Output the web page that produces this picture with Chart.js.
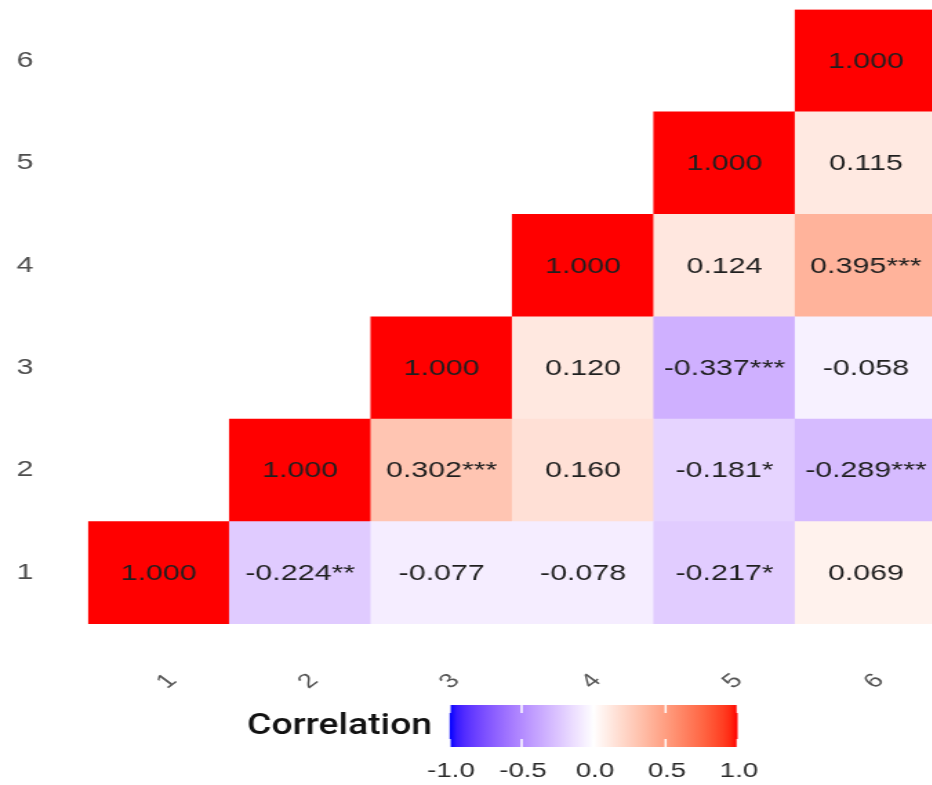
<!DOCTYPE html>
<html lang="en">
<head>
  <meta charset="UTF-8" />
  <title>Correlation</title>
  <script src="https://cdn.jsdelivr.net/npm/chart.js"></script>
  <style>
    html, body {
      margin: 0;
      padding: 0;
      background: #fff;
      overflow: hidden;
      width: 932px;
      height: 785px;
    }
    /* the source picture is stretched sideways, so draw square tiles and stretch the lot */
    #wrap {
      position: absolute;
      left: 0;
      top: 0;
      width: 690px;
      height: 785px;
      transform: scaleX(1.38);
      transform-origin: 0 0;
    }
  </style>
</head>
<body>
  <div id="wrap"><canvas id="heat" width="690" height="785"></canvas></div>

  <script>
    const vars = ['1', '2', '3', '4', '5', '6'];

    // one array per row (y = 1..6), index = column variable, null = empty half
    const corr1 = [1.000, -0.224, -0.077, -0.078, -0.217, 0.069];
    const corr2 = [null, 1.000, 0.302, 0.160, -0.181, -0.289];
    const corr3 = [null, null, 1.000, 0.120, -0.337, -0.058];
    const corr4 = [null, null, null, 1.000, 0.124, 0.395];
    const corr5 = [null, null, null, null, 1.000, 0.115];
    const corr6 = [null, null, null, null, null, 1.000];

    const stars1 = ['', '**', '', '', '*', ''];
    const stars2 = ['', '', '***', '', '*', '***'];
    const stars3 = ['', '', '', '', '***', ''];
    const stars4 = ['', '', '', '', '', '***'];
    const stars5 = ['', '', '', '', '', ''];
    const stars6 = ['', '', '', '', '', ''];

    const legendTicks = [-1, -0.5, 0, 0.5, 1];

    const corrRows = [corr1, corr2, corr3, corr4, corr5, corr6];
    const starRows = [stars1, stars2, stars3, stars4, stars5, stars6];

    const FONT = "'Liberation Sans', Arial, sans-serif";

    // blue - white - red, mixed in Lab like ggplot's gradient2
    function toLin(c) { c /= 255; return c <= 0.04045 ? c / 12.92 : Math.pow((c + 0.055) / 1.055, 2.4); }
    function toSrgb(c) {
      c = Math.max(0, Math.min(1, c));
      return Math.round(255 * (c <= 0.0031308 ? 12.92 * c : 1.055 * Math.pow(c, 1 / 2.4) - 0.055));
    }
    function rgbToLab(rgb) {
      const r = toLin(rgb[0]), g = toLin(rgb[1]), b = toLin(rgb[2]);
      const x = (0.4124 * r + 0.3576 * g + 0.1805 * b) / 0.95047;
      const y = (0.2126 * r + 0.7152 * g + 0.0722 * b);
      const z = (0.0193 * r + 0.1192 * g + 0.9505 * b) / 1.08883;
      const f = t => t > 0.008856 ? Math.cbrt(t) : 7.787 * t + 16 / 116;
      return [116 * f(y) - 16, 500 * (f(x) - f(y)), 200 * (f(y) - f(z))];
    }
    function labToRgb(lab) {
      const fy = (lab[0] + 16) / 116, fx = fy + lab[1] / 500, fz = fy - lab[2] / 200;
      const inv = t => t * t * t > 0.008856 ? t * t * t : (t - 16 / 116) / 7.787;
      const x = inv(fx) * 0.95047, y = inv(fy), z = inv(fz) * 1.08883;
      return [
        toSrgb(3.2406 * x - 1.5372 * y - 0.4986 * z),
        toSrgb(-0.9689 * x + 1.8758 * y + 0.0415 * z),
        toSrgb(0.0557 * x - 0.2040 * y + 1.0570 * z)
      ];
    }
    const labWhite = rgbToLab([255, 255, 255]);
    const labRed = rgbToLab([255, 0, 0]);
    const labBlue = rgbToLab([0, 0, 255]);

    function fillColor(v) {
      if (v === null || v === undefined) return 'rgba(0,0,0,0)';
      const t = Math.min(1, Math.abs(v));
      const end = v < 0 ? labBlue : labRed;
      const lab = labWhite.map((w, i) => w + (end[i] - w) * t);
      const c = labToRgb(lab);
      return `rgb(${c[0]},${c[1]},${c[2]})`;
    }

    const cellLabels = {
      id: 'cellLabels',
      afterDatasetsDraw(chart) {
        const ctx = chart.ctx;
        ctx.save();
        ctx.font = `22px ${FONT}`;
        ctx.fillStyle = '#1f1f1f';
        ctx.textAlign = 'center';
        ctx.textBaseline = 'middle';
        chart.data.datasets.forEach((ds, r) => {
          const meta = chart.getDatasetMeta(r);
          meta.data.forEach((bar, c) => {
            const v = corrRows[r][c];
            if (v === null) return;
            ctx.fillText(v.toFixed(3) + starRows[r][c], bar.x, (bar.y + bar.base) / 2 + 1);
          });
        });
        ctx.restore();
      }
    };

    const colorBar = {
      id: 'colorBar',
      afterDraw(chart) {
        const ctx = chart.ctx;
        const left = 325.8, width = 208.7, top = 705, height = 42;
        const pos = v => left + (v + 1) / 2 * width;
        ctx.save();

        const grad = ctx.createLinearGradient(left, 0, left + width, 0);
        for (let i = 0; i <= 40; i++) {
          const v = -1 + i / 20;
          grad.addColorStop(i / 40, fillColor(v));
        }
        ctx.fillStyle = grad;
        ctx.fillRect(left, top, width, height);

        ctx.strokeStyle = '#fff';
        ctx.lineWidth = 1.5;
        legendTicks.forEach(v => {
          const x = pos(v);
          ctx.beginPath();
          ctx.moveTo(x, top); ctx.lineTo(x, top + 8);
          ctx.moveTo(x, top + height - 8); ctx.lineTo(x, top + height);
          ctx.stroke();
        });

        ctx.fillStyle = '#2b2b2b';
        ctx.font = `20px ${FONT}`;
        ctx.textAlign = 'center';
        ctx.textBaseline = 'middle';
        legendTicks.forEach(v => ctx.fillText(v.toFixed(1), pos(v) + 1, 771));

        // legend title, squeezed to the narrow face of the source
        ctx.font = "500 30px Roboto, sans-serif";
        const w = ctx.measureText('Correlation').width;
        const sx = 134 / w;
        ctx.translate(313, 726);
        ctx.scale(sx, 1);
        ctx.fillStyle = '#111';
        ctx.textAlign = 'right';
        ctx.fillText('Correlation', 0, 0);
        ctx.restore();
      }
    };

    new Chart(document.getElementById('heat').getContext('2d'), {
      type: 'bar',
      data: {
        labels: vars,
        datasets: corrRows.map((row, r) => ({
          label: 'row ' + vars[r],
          data: row.map(v => v === null ? null : [r + 0.5, r + 1.5]),
          backgroundColor: c => fillColor(row[c.dataIndex]),
          borderWidth: 0,
          grouped: false,
          barPercentage: 1,
          categoryPercentage: 1
        }))
      },
      options: {
        responsive: false,
        animation: false,
        layout: { padding: { left: 12, top: 9.5, right: 6.7, bottom: 0 } },
        plugins: {
          legend: { display: false },
          tooltip: { enabled: false }
        },
        scales: {
          x: {
            grid: { display: false, drawTicks: false },
            border: { display: false },
            ticks: {
              color: '#555',
              font: { size: 20, family: FONT },
              minRotation: 45,
              maxRotation: 45,
              padding: 45,
              labelOffset: 10
            },
            afterFit: s => { s.height = 161; }
          },
          y: {
            min: 0.5,
            max: 6.5,
            grid: { display: false, drawTicks: false },
            border: { display: false },
            afterBuildTicks: s => { s.ticks = vars.map((v, i) => ({ value: i + 1 })); },
            ticks: {
              color: '#4d4d4d',
              font: { size: 22, family: FONT },
              crossAlign: 'far',
              callback: v => vars[v - 1]
            },
            afterFit: s => { s.width = 51.8; s.paddingTop = 0; s.paddingBottom = 0; }
          }
        }
      },
      plugins: [cellLabels, colorBar]
    });
  </script>
</body>
</html>
